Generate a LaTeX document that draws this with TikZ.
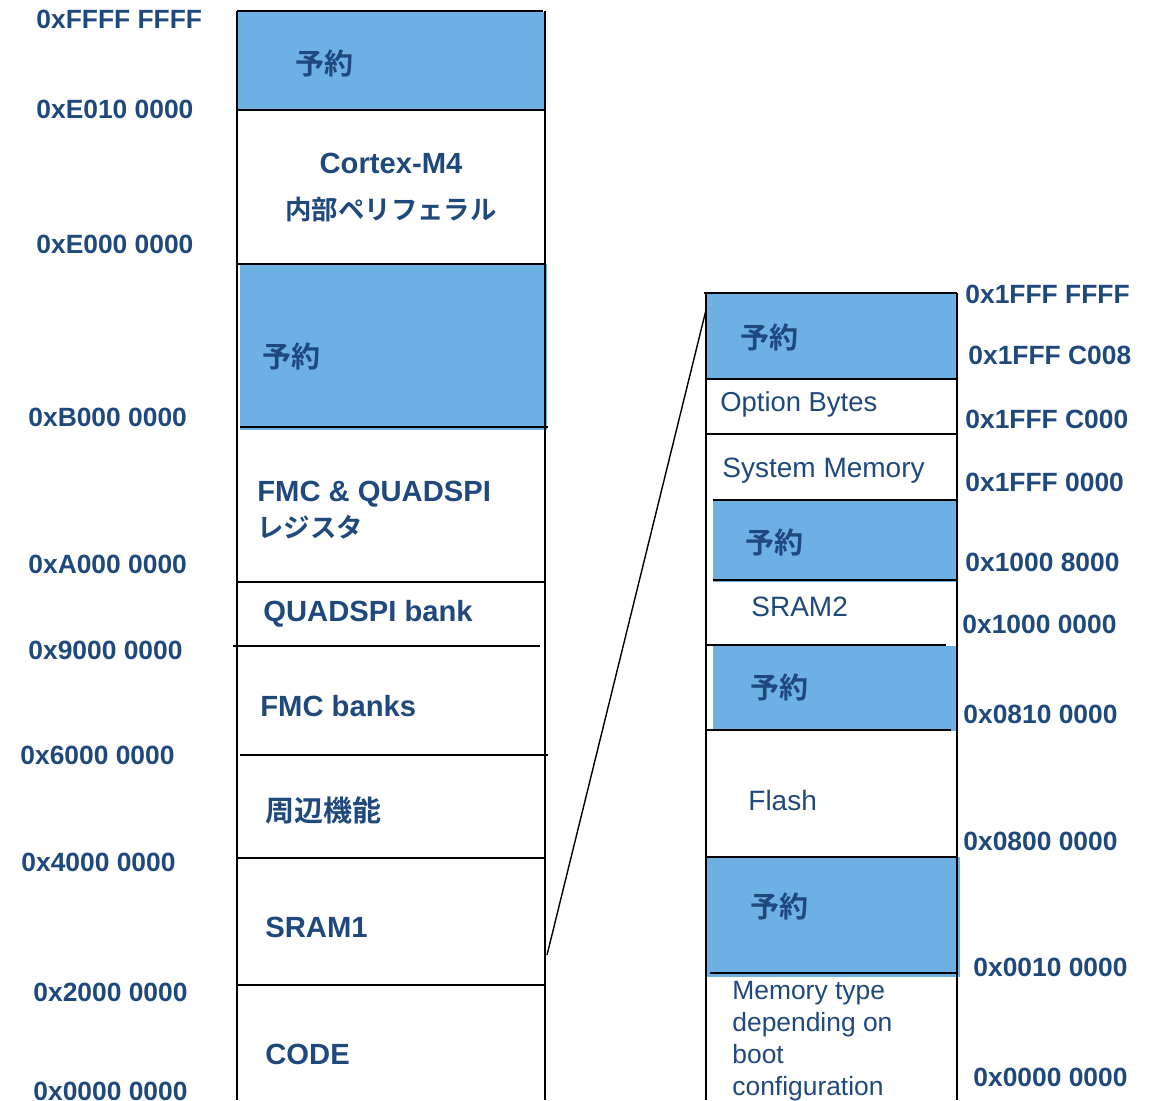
\documentclass[tikz,border=0pt]{standalone}
\usepackage{fontspec}
\setmainfont{Liberation Sans}
\newfontfamily\jp{Noto Sans CJK JP}[BoldFont={Noto Sans CJK JP Bold}]
\definecolor{txtblue}{RGB}{31,73,125}
\definecolor{resblue}{RGB}{108,176,228}
\tikzset{
  resv/.style={fill=resblue},
  border/.style={line width=1pt, black},
  addr/.style={anchor=west, inner sep=0pt, text=txtblue, font=\fontsize{13.2}{15}\selectfont\bfseries},
  boxtxt/.style={anchor=west, inner sep=0pt, text=txtblue, font=\fontsize{14.6}{17}\selectfont\bfseries},
  jptxt/.style={anchor=west, inner sep=0pt, text=txtblue, font=\fontsize{14.5}{17}\selectfont\jp\bfseries},
  rtxt/.style={anchor=west, inner sep=0pt, text=txtblue, font=\fontsize{14}{17}\selectfont},
  link/.style={line width=0.7pt, black}
}
\begin{document}
\begin{tikzpicture}[x=0.5pt,y=-0.5pt]
\useasboundingbox (0,0) rectangle (1152,1100);
% ---------- left column fills ----------
\fill[resv] (237,12) rectangle (545,110);
\fill[resv] (240,264) rectangle (547,430);
% ---------- left column lines ----------
\draw[border] (237,11) -- (543,11);
\draw[border] (237,110) -- (545,110);
\draw[border] (237,264) -- (545,264);
\draw[border] (240,427) -- (548,427);
\draw[border] (237,582) -- (545,582);
\draw[border] (233,646) -- (540,646);
\draw[border] (240,755) -- (548,755);
\draw[border] (237,858) -- (545,858);
\draw[border] (237,985) -- (545,985);
\draw[border] (237,11) -- (237,1100);
\draw[border] (545,11) -- (545,1100);
% ---------- left column texts ----------
\node[jptxt] (l1) at (295,63) {予約};
\node[align=center, inner sep=0pt, text=txtblue] (l2) at (391,188)
  {{\fontsize{14.6}{21}\selectfont\bfseries Cortex-M4}\\[11pt]{\fontsize{13.2}{21}\selectfont\jp\bfseries 内部ペリフェラル}};
\node[jptxt] (l3) at (262,356) {予約};
\node[align=left, anchor=west, inner sep=0pt, text=txtblue] (l4) at (257,510)
  {{\fontsize{14.6}{17}\selectfont\bfseries FMC \& QUADSPI}\\[3pt]{\fontsize{13.2}{17}\selectfont\jp\bfseries レジスタ}};
\node[boxtxt] (l5) at (263,614) {QUADSPI bank};
\node[boxtxt] (l6) at (260,706) {FMC banks};
\node[jptxt] (l7) at (265,810) {周辺機能};
\node[boxtxt] (l8) at (265,927) {SRAM1};
\node[boxtxt] (l9) at (265,1054) {CODE};
% ---------- left addresses ----------
\node[addr] (a1) at (36,19) {0xFFFF FFFF};
\node[addr] (a2) at (36,109) {0xE010 0000};
\node[addr] (a3) at (36,244) {0xE000 0000};
\node[addr] (a4) at (28,417) {0xB000 0000};
\node[addr] (a5) at (28,564) {0xA000 0000};
\node[addr] (a6) at (28,650) {0x9000 0000};
\node[addr] (a7) at (20,755) {0x6000 0000};
\node[addr] (a8) at (21,862) {0x4000 0000};
\node[addr] (a9) at (33,992) {0x2000 0000};
\node[addr] (a10) at (33,1091) {0x0000 0000};
% ---------- right column fills ----------
\fill[resv] (706,293) rectangle (957,379);
\fill[resv] (713,500) rectangle (957,582);
\fill[resv] (713,646) rectangle (957,731);
\fill[resv] (706,857) rectangle (960,977);
% ---------- right column lines ----------
\draw[border] (704,293) -- (957,293);
\draw[border] (706,379) -- (958,379);
\draw[border] (706,434) -- (957,434);
\draw[border] (713,500) -- (957,500);
\draw[border] (713,580) -- (957,580);
\draw[border] (706,645) -- (946,645);
\draw[border] (706,730) -- (951,730);
\draw[border] (706,857) -- (957,857);
\draw[border] (710,973) -- (957,973);
\draw[border] (706,293) -- (706,1100);
\draw[border] (957,293) -- (957,1100);
% ---------- right column texts ----------
\node[jptxt] (r1) at (740,337) {予約};
\node[rtxt, font=\fontsize{13.7}{17}\selectfont] (r2) at (720,404) {Option Bytes};
\node[rtxt] (r3) at (722,471) {System Memory};
\node[jptxt] (r4) at (745,542) {予約};
\node[rtxt] (r5) at (751,607) {SRAM2};
\node[jptxt] (r6) at (750,687) {予約};
\node[rtxt] (r7) at (748,800) {Flash};
\node[jptxt] (r8) at (750,906) {予約};
\node[rtxt, align=left, font=\fontsize{13.2}{16}\selectfont] (r9) at (732,1041)
  {Memory type\\depending on\\boot\\configuration};
% ---------- right addresses ----------
\node[addr] (b1) at (965,294) {0x1FFF FFFF};
\node[addr] (b2) at (968,355) {0x1FFF C008};
\node[addr] (b3) at (965,419) {0x1FFF C000};
\node[addr] (b4) at (965,482) {0x1FFF 0000};
\node[addr] (b5) at (965,562) {0x1000 8000};
\node[addr] (b6) at (962,624) {0x1000 0000};
\node[addr] (b7) at (963,714) {0x0810 0000};
\node[addr] (b8) at (963,841) {0x0800 0000};
\node[addr] (b9) at (973,967) {0x0010 0000};
\node[addr] (b10) at (973,1077) {0x0000 0000};
% ---------- zoom connector ----------
\coordinate (ztop) at (706,310);
\coordinate (zsram) at (547,955);
\draw[link] (ztop) -- (zsram);
\end{tikzpicture}
\end{document}
